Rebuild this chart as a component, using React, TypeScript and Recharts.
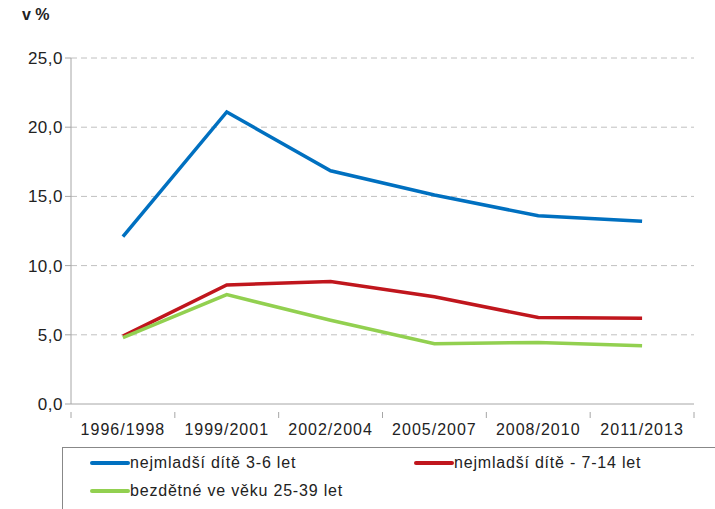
import React from 'react';
import { LineChart, Line, XAxis, YAxis, CartesianGrid } from 'recharts';

const periods = ['1996/1998', '1999/2001', '2002/2004', '2005/2007', '2008/2010', '2011/2013'];
const youngest36 = [12.1, 21.1, 16.85, 15.1, 13.6, 13.2];
const youngest714 = [4.9, 8.6, 8.85, 7.75, 6.25, 6.2];
const childless2539 = [4.8, 7.9, 6.05, 4.35, 4.45, 4.2];
const yTicks = [0, 5, 10, 15, 20, 25];

const seriesNames = ['nejmladší dítě 3-6 let', 'nejmladší dítě - 7-14 let', 'bezdětné ve věku 25-39 let'];
const colors = ['#0070c0', '#c0161d', '#92d050'];

const data = periods.map((p, i) => ({
    period: p,
    a: youngest36[i],
    b: youngest714[i],
    c: childless2539[i],
}));

const font = '"Liberation Sans", Arial, sans-serif';
const band = 623 / periods.length;

const XTick = (props: any) => {
    const { x, y, payload, index } = props;
    return (
        <g>
            <line x1={x - band / 2} y1={y} x2={x - band / 2} y2={y + 6} stroke="#a6a6a6" />
            {index === periods.length - 1 && (
                <line x1={x + band / 2} y1={y} x2={x + band / 2} y2={y + 6} stroke="#a6a6a6" />
            )}
            <text x={x} y={y + 23} textAnchor="middle" fill="#222" fontSize={16} fontFamily={font} letterSpacing={1}>
                {payload.value}
            </text>
        </g>
    );
};

const legendRow = (i: number, left: number, top: number) => (
    <div style={{ position: 'absolute', left, top, display: 'flex', alignItems: 'center' }}>
        <div style={{ width: 40, height: 4, background: colors[i], borderRadius: 2 }} />
        <span style={{ fontSize: 16, letterSpacing: 0.8, color: '#222', fontFamily: font }}>{seriesNames[i]}</span>
    </div>
);

export default function App() {
    return (
        <div style={{ position: 'absolute', left: 0, top: 0, width: 715, height: 509, background: '#fff', overflow: 'hidden' }}>
            <div style={{ position: 'absolute', left: 22, top: 6, fontSize: 16, fontWeight: 'bold', color: '#222', fontFamily: font }}>
                v %
            </div>
            <LineChart width={715} height={509} data={data} margin={{ top: 58, right: 21, bottom: 0, left: 0 }}>
                <CartesianGrid vertical={false} stroke="#c0c0c0" strokeDasharray="6 4" horizontalValues={[5, 10, 15, 20, 25]} />
                <XAxis
                    dataKey="period"
                    height={105}
                    stroke="#a6a6a6"
                    tickLine={false}
                    tick={<XTick />}
                    interval={0}
                    padding={{ left: band / 2, right: band / 2 }}
                />
                <YAxis
                    width={71}
                    domain={[0, 25]}
                    ticks={yTicks}
                    stroke="#a6a6a6"
                    tickSize={6}
                    tickMargin={2}
                    tick={{ fontSize: 17, fill: '#222', fontFamily: font, letterSpacing: 0.5 }}
                    tickFormatter={(v: number) => v.toFixed(1).replace('.', ',')}
                />
                <Line dataKey="a" stroke={colors[0]} strokeWidth={3.5} dot={false} isAnimationActive={false} />
                <Line dataKey="b" stroke={colors[1]} strokeWidth={3.5} dot={false} isAnimationActive={false} />
                <Line dataKey="c" stroke={colors[2]} strokeWidth={3.5} dot={false} isAnimationActive={false} />
            </LineChart>
            <div style={{ position: 'absolute', left: 62, top: 447, width: 700, height: 80, border: '1px solid #888', boxSizing: 'border-box' }} />
            {legendRow(0, 90, 454)}
            {legendRow(1, 414, 454)}
            {legendRow(2, 90, 482)}
        </div>
    );
}
